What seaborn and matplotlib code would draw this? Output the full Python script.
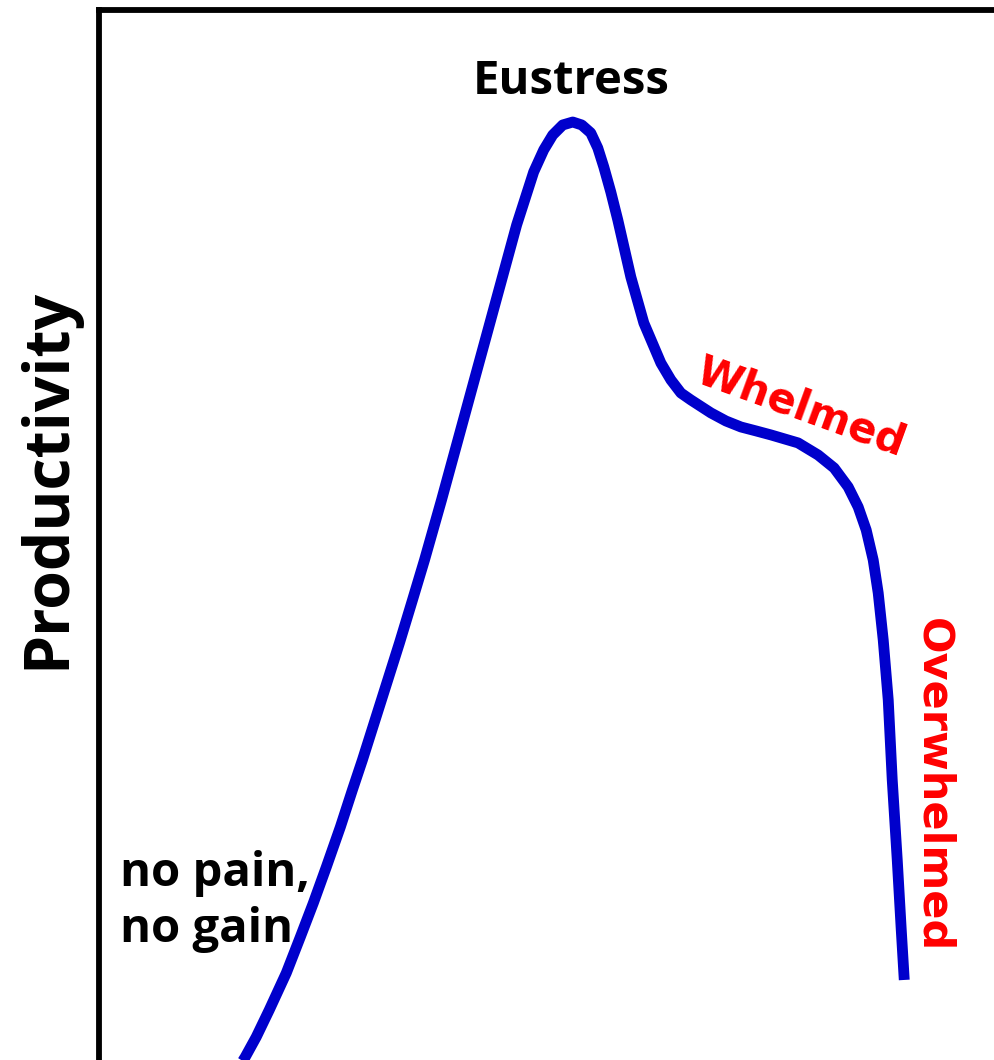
import numpy as np
import pandas as pd
import matplotlib
matplotlib.use('Agg')
import matplotlib.pyplot as plt
import seaborn as sns

# Yerkes-Dodson style curve (stress vs productivity)
stress = [1.235, 1.335, 1.465, 1.575, 1.705, 1.875, 2.015, 2.145, 2.275, 2.415,
          2.535, 2.635, 2.825, 3.005, 3.135, 3.255, 3.425, 3.575, 3.725, 3.875,
          4.025, 4.175, 4.345, 4.445, 4.535, 4.635, 4.735, 4.825, 4.915, 4.985,
          5.045, 5.115, 5.185, 5.315, 5.445, 5.615, 5.715, 5.815, 5.915, 6.115,
          6.265, 6.415, 6.565, 6.715, 6.985, 7.185, 7.345, 7.485, 7.585, 7.665,
          7.735, 7.785, 7.835, 7.885, 7.925, 7.975, 8.015, 8.045]
productivity = [0.046, 0.202, 0.394, 0.578, 0.826, 1.165, 1.495, 1.807, 2.138,
                2.505, 2.844, 3.119, 3.670, 4.193, 4.587, 4.954, 5.505, 6.009,
                6.514, 7.018, 7.523, 8.028, 8.514, 8.716, 8.853, 8.945, 8.972,
                8.945, 8.872, 8.734, 8.560, 8.330, 8.073, 7.550, 7.128, 6.761,
                6.606, 6.486, 6.422, 6.303, 6.229, 6.174, 6.138, 6.101, 6.028,
                5.917, 5.798, 5.624, 5.440, 5.229, 4.954, 4.651, 4.220, 3.670,
                2.936, 2.202, 1.560, 1.101]

df = pd.DataFrame({'Stress': stress, 'Productivity': productivity})

sns.set_style('white')
plt.rcParams['font.family'] = ['Open Sans', 'DejaVu Sans']

fig = plt.figure(figsize=(9.94, 10.6), dpi=100)
ax = fig.add_axes([0.0991, -0.0377, 1.0076, 1.0283])

sns.lineplot(data=df, x='Stress', y='Productivity', sort=False, estimator=None,
             color='#0000CC', linewidth=7.8, ax=ax,
             solid_capstyle='butt', solid_joinstyle='round')

ax.set_xlim(0, 10)
ax.set_ylim(0, 10)
ax.set_xticks([])
ax.set_yticks([])
ax.set_xlabel('')
ax.set_ylabel('')
for side in ['right', 'bottom']:
    ax.spines[side].set_visible(False)
for side in ['left', 'top']:
    ax.spines[side].set_color('black')
    ax.spines[side].set_linewidth(4.2)

# labels
ax.text(-0.051, 0.57, 'Productivity', transform=ax.transAxes, rotation=90,
        ha='center', va='center', fontsize=45, fontweight='bold', color='black',
        family=['Open Sans', 'DejaVu Sans'])
ax.text(4.715, 9.34, 'Eustress', ha='center', va='center', fontsize=34,
        fontweight='bold', color='black', family=['Open Sans', 'DejaVu Sans'])
ax.text(0.21, 1.82, 'no pain,\nno gain', ha='left', va='center', fontsize=34,
        fontweight='bold', color='black', linespacing=1.25,
        family=['Open Sans', 'DejaVu Sans'])
ax.text(7.015, 6.35, 'Whelmed', ha='center', va='center', rotation=-20,
        fontsize=30, fontweight='bold', color='red', family=['DejaVu Sans'])
ax.text(8.335, 2.89, 'Overwhelmed', ha='center', va='center', rotation=-90,
        fontsize=31, fontweight='bold', color='red', family=['DejaVu Sans'])

plt.savefig('out.png', dpi=100)
